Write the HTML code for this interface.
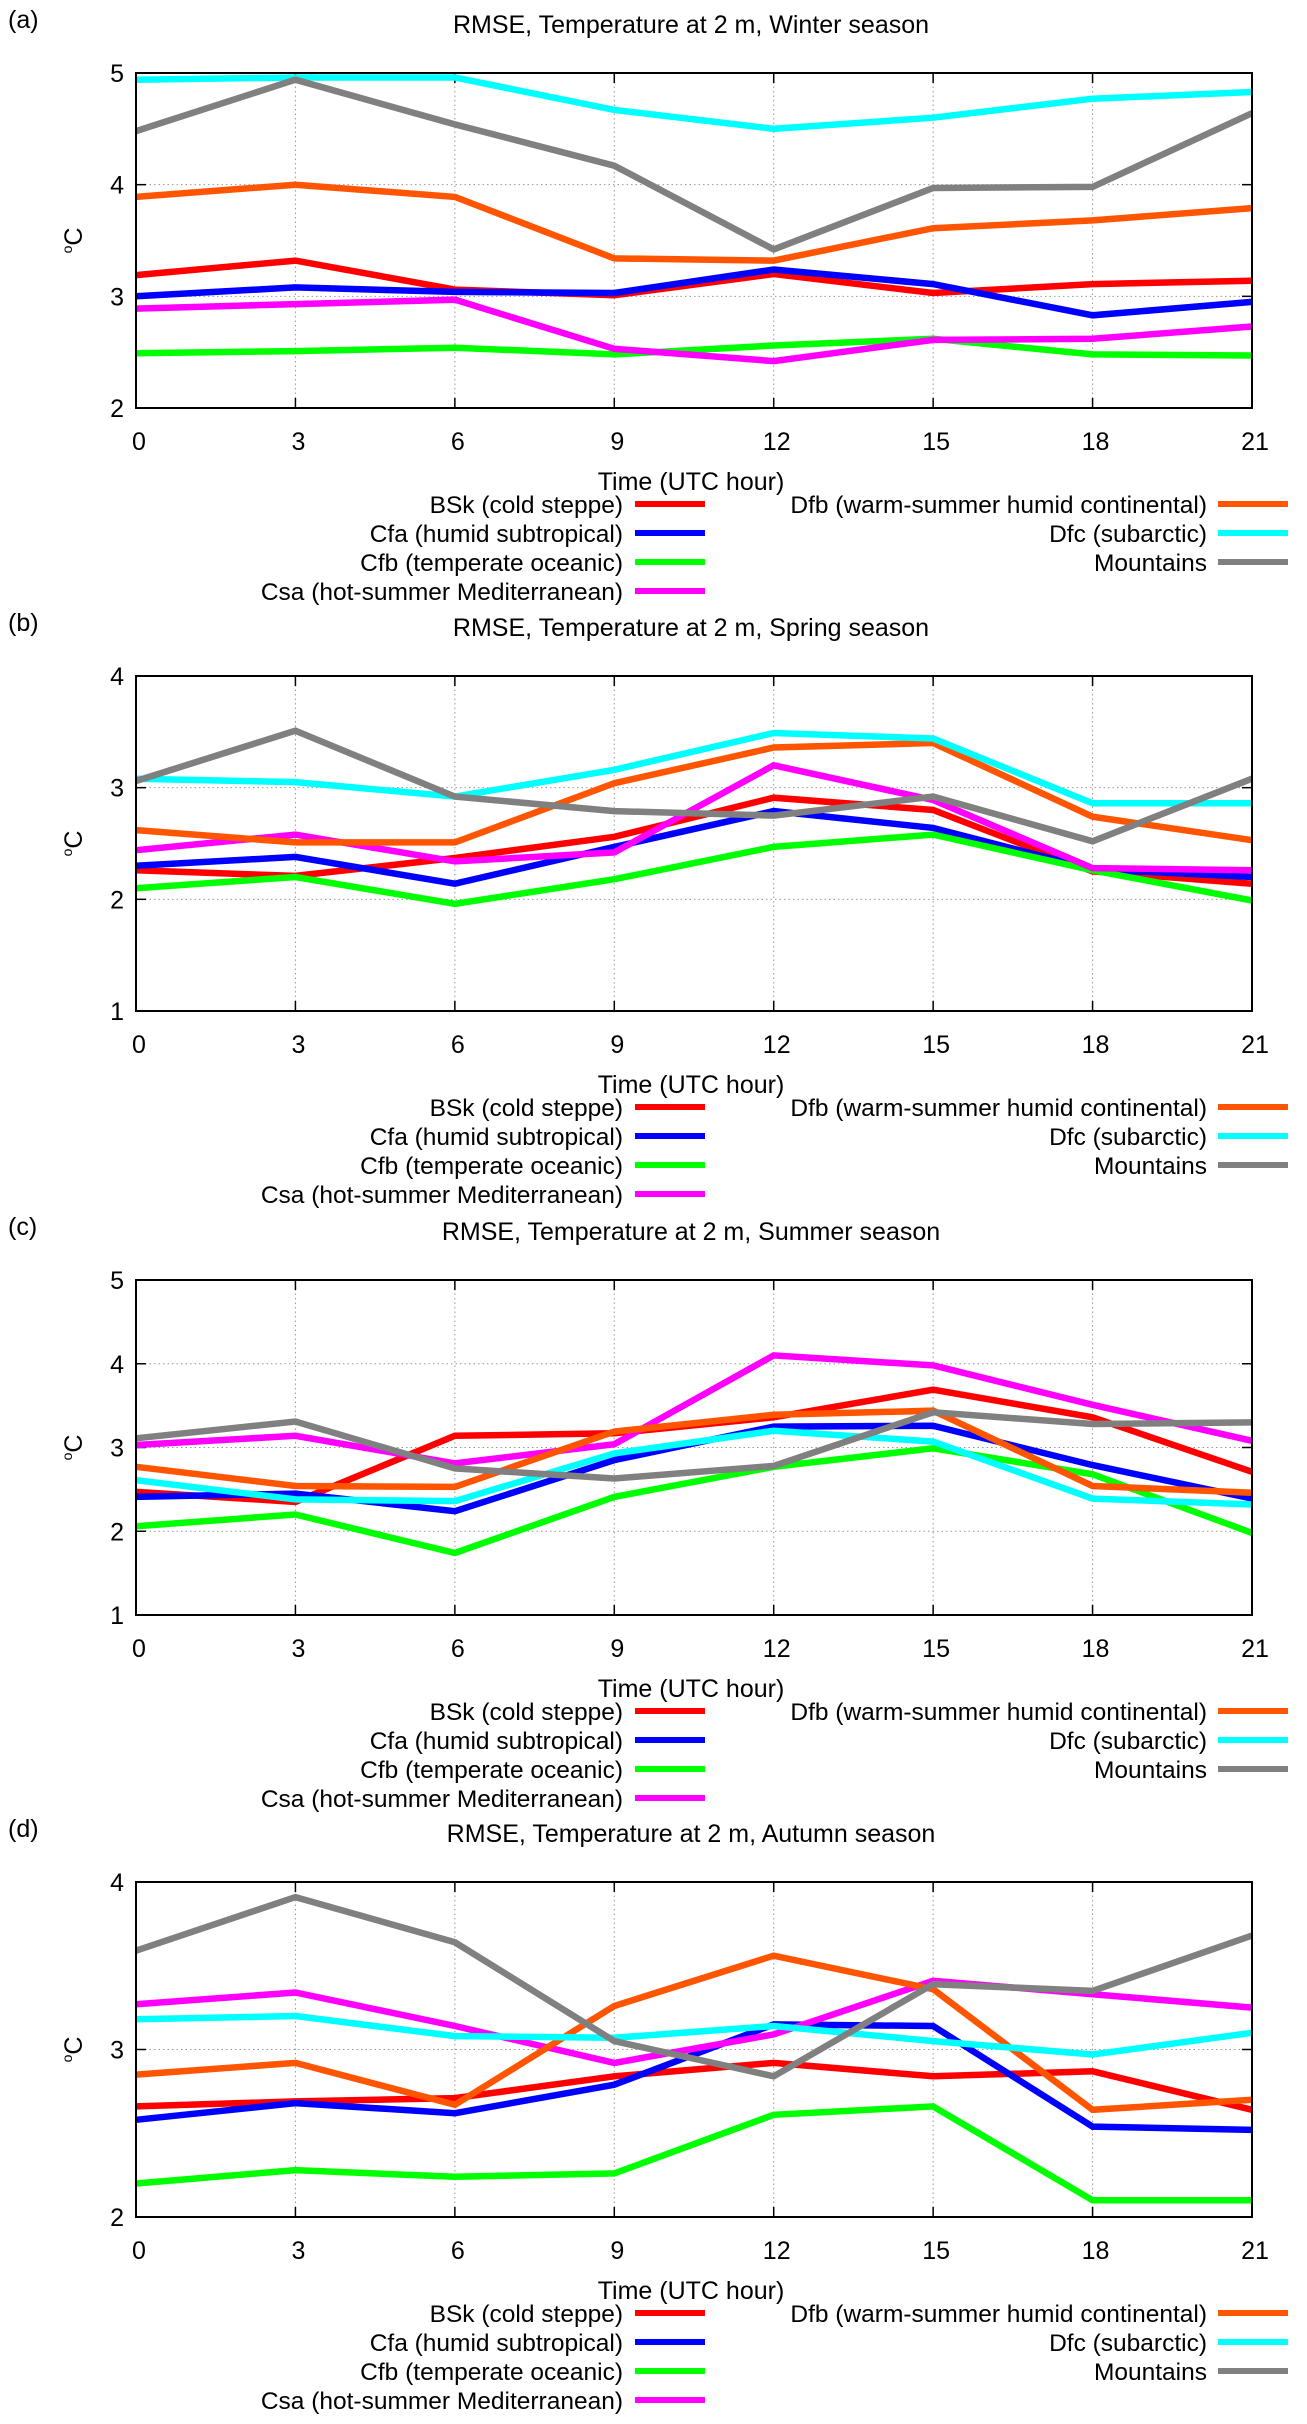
<!DOCTYPE html>
<html><head><meta charset="utf-8">
<style>
html,body{margin:0;padding:0;background:#fff;}
svg{display:block;}
text{font-family:"Liberation Sans",sans-serif;fill:#000;}
</style></head>
<body>
<svg id="fig" width="1307" height="2424" viewBox="0 0 1307 2424" xmlns="http://www.w3.org/2000/svg"></svg>
<script>
const hours = [0,3,6,9,12,15,18,21];
const seriesNames = ["BSk (cold steppe)","Cfa (humid subtropical)","Cfb (temperate oceanic)","Csa (hot-summer Mediterranean)","Dfb (warm-summer humid continental)","Dfc (subarctic)","Mountains"];
const seriesKeys = ["bsk","cfa","cfb","csa","dfb","dfc","mountains"];
const seriesColors = ["#ff0000","#0000ff","#00ff00","#ff00ff","#ff5500","#00ffff","#808080"];
const panelLabels = ["(a)","(b)","(c)","(d)"];
const panelTitles = ["RMSE, Temperature at 2 m, Winter season","RMSE, Temperature at 2 m, Spring season","RMSE, Temperature at 2 m, Summer season","RMSE, Temperature at 2 m, Autumn season"];
const panelKeys = ["winter","spring","summer","autumn"];
const yMins = [2,1,1,2];
const yMaxs = [5,4,5,4];
const winterBSk = [3.19,3.32,3.06,3.01,3.2,3.03,3.11,3.14];
const winterCfa = [3.0,3.08,3.04,3.03,3.24,3.11,2.83,2.95];
const winterCfb = [2.49,2.51,2.54,2.48,2.56,2.62,2.48,2.47];
const winterCsa = [2.89,2.93,2.97,2.53,2.42,2.61,2.62,2.73];
const winterDfb = [3.89,4.0,3.89,3.34,3.32,3.61,3.68,3.79];
const winterDfc = [4.94,4.96,4.96,4.67,4.5,4.6,4.77,4.83];
const winterMtn = [4.48,4.94,4.54,4.17,3.42,3.97,3.98,4.64];
const springBSk = [2.26,2.21,2.37,2.56,2.91,2.80,2.25,2.14];
const springCfa = [2.30,2.38,2.14,2.47,2.79,2.64,2.27,2.20];
const springCfb = [2.10,2.20,1.96,2.18,2.47,2.58,2.26,1.99];
const springCsa = [2.44,2.58,2.34,2.42,3.20,2.89,2.28,2.26];
const springDfb = [2.62,2.51,2.51,3.04,3.36,3.40,2.74,2.53];
const springDfc = [3.08,3.05,2.92,3.16,3.49,3.44,2.86,2.86];
const springMtn = [3.06,3.51,2.92,2.79,2.75,2.92,2.52,3.08];
const summerBSk = [2.47,2.35,3.14,3.17,3.36,3.69,3.36,2.71];
const summerCfa = [2.41,2.45,2.24,2.85,3.25,3.26,2.79,2.39];
const summerCfb = [2.06,2.20,1.74,2.41,2.77,2.99,2.68,1.98];
const summerCsa = [3.03,3.14,2.81,3.04,4.10,3.98,3.51,3.08];
const summerDfb = [2.77,2.54,2.53,3.19,3.39,3.44,2.54,2.46];
const summerDfc = [2.61,2.38,2.36,2.93,3.20,3.07,2.39,2.32];
const summerMtn = [3.11,3.31,2.75,2.63,2.78,3.42,3.28,3.30];
const autumnBSk = [2.66,2.69,2.71,2.84,2.92,2.84,2.87,2.64];
const autumnCfa = [2.58,2.68,2.62,2.79,3.15,3.14,2.54,2.52];
const autumnCfb = [2.20,2.28,2.24,2.26,2.61,2.66,2.10,2.10];
const autumnCsa = [3.27,3.34,3.14,2.92,3.09,3.41,3.33,3.25];
const autumnDfb = [2.85,2.92,2.67,3.26,3.56,3.36,2.64,2.70];
const autumnDfc = [3.18,3.20,3.08,3.07,3.14,3.05,2.97,3.10];
const autumnMtn = [3.59,3.91,3.64,3.05,2.84,3.39,3.35,3.68];
const panelData = [
 [winterBSk,winterCfa,winterCfb,winterCsa,winterDfb,winterDfc,winterMtn],
 [springBSk,springCfa,springCfb,springCsa,springDfb,springDfc,springMtn],
 [summerBSk,summerCfa,summerCfb,summerCsa,summerDfb,summerDfc,summerMtn],
 [autumnBSk,autumnCfa,autumnCfb,autumnCsa,autumnDfb,autumnDfc,autumnMtn]
];

const NS = "http://www.w3.org/2000/svg";
const svg = document.getElementById("fig");
function mk(tag, attrs, parent){
  const e = document.createElementNS(NS, tag);
  for (const k in attrs) e.setAttribute(k, attrs[k]);
  (parent||svg).appendChild(e);
  return e;
}
const L = 136, R = 1252, H = 335;
const panelTops = [73,676,1280,1882];

for (let p = 0; p < 4; p++) {
  const T = panelTops[p], B = T + H;
  const g = mk("g", {});
  
  
  const xs = h => L + (h - hours[0]) / (hours[hours.length-1] - hours[0]) * (R - L);
  const ys = v => B - (v - yMins[p]) / (yMaxs[p] - yMins[p]) * H;

  const lab = mk("text", {x: 8, y: T - 45, "font-size": 25}, g);
  lab.textContent = panelLabels[p];
  
  
  const ttl = mk("text", {x: (L+R)/2 - 3, y: T - 40, "font-size": 25, "text-anchor": "middle"}, g);
  ttl.textContent = panelTitles[p];
  
  

  for (let v = yMins[p]; v <= yMaxs[p]; v++) {
    const y = ys(v);
    if (v > yMins[p] && v < yMaxs[p]) {
      const gl = mk("line", {x1: L, x2: R, y1: y, y2: y, stroke: "#999", "stroke-width": 1, "stroke-dasharray": "1.5,3"}, g);
      
      
      mk("line", {x1: L, x2: L+10, y1: y, y2: y, stroke: "#000", "stroke-width": 1.5}, g);
      mk("line", {x1: R-10, x2: R, y1: y, y2: y, stroke: "#000", "stroke-width": 1.5}, g);
    }
    const t = mk("text", {x: 124, y: y + 9, "font-size": 25, "text-anchor": "end"}, g);
    t.textContent = v;
    
    
  }
  hours.forEach((h, i) => {
    const x = xs(h);
    if (i > 0 && i < hours.length - 1) {
      const gl = mk("line", {x1: x, x2: x, y1: T, y2: B, stroke: "#999", "stroke-width": 1, "stroke-dasharray": "1.5,3"}, g);
      
      
      mk("line", {x1: x, x2: x, y1: T, y2: T+10, stroke: "#000", "stroke-width": 1.5}, g);
      mk("line", {x1: x, x2: x, y1: B-10, y2: B, stroke: "#000", "stroke-width": 1.5}, g);
    }
    const t = mk("text", {x: x + 3, y: B + 42, "font-size": 25, "text-anchor": "middle"}, g);
    t.textContent = h;
    
    
  });
  const yt = mk("text", {x: 0, y: 0, "font-size": 25, "text-anchor": "middle", transform: `translate(82,${(T+B)/2}) rotate(-90)`}, g);
  yt.innerHTML = '<tspan font-size="14" dy="-10">o</tspan><tspan dy="10">C</tspan>';
  
  
  const xt = mk("text", {x: (L+R)/2 - 3, y: B + 82, "font-size": 25, "text-anchor": "middle"}, g);
  xt.textContent = "Time (UTC hour)";
  
  

  panelData[p].forEach((vals, s) => {
    const pts = vals.map((v, i) => xs(hours[i]).toFixed(1) + "," + ys(v).toFixed(1)).join(" ");
    const pl = mk("polyline", {points: pts, fill: "none", stroke: seriesColors[s], "stroke-width": 6.5, "stroke-linejoin": "miter"}, g);
    
    
  });
  const fr = mk("rect", {x: L, y: T, width: R-L, height: H, fill: "none", stroke: "#000", "stroke-width": 2}, g);
  
  

  seriesNames.forEach((name, s) => {
    const col = s < 4 ? 0 : 1;
    const row = s < 4 ? s : s - 4;
    const ly = B + 96 + row * 29;
    const tx = col === 0 ? 623 : 1207;
    const lx = col === 0 ? 635 : 1218;
    const lg = mk("g", {}, g);
    
    
    const t = mk("text", {x: tx, y: ly + 9, "font-size": 24.5, "text-anchor": "end"}, lg);
    t.textContent = name;
    mk("line", {x1: lx, x2: lx + 70, y1: ly, y2: ly, stroke: seriesColors[s], "stroke-width": 6}, lg);
  });
}
</script>
</body></html>
